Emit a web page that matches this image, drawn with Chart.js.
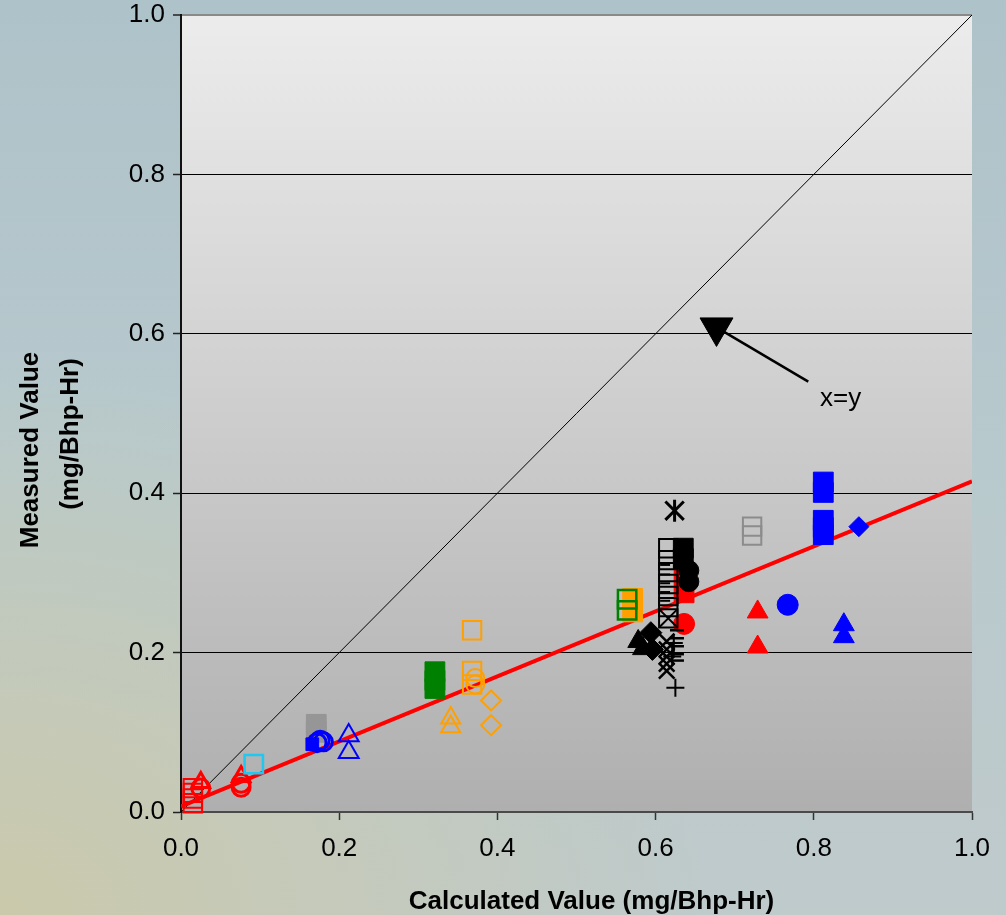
<!DOCTYPE html>
<html><head><meta charset="utf-8">
<script src="https://cdn.jsdelivr.net/npm/chart.js@4"></script>
<style>
html,body{margin:0;padding:0;}
body{width:1006px;height:915px;overflow:hidden;
background:
 radial-gradient(ellipse 70% 60% at 0% 100%, rgba(203,201,170,0.95) 0%, rgba(203,201,170,0) 100%),
 linear-gradient(180deg,#aec2c9 0%,#b8c9cd 50%,#bfcacb 100%);}
#wrap{position:relative;width:1006px;height:915px;}
</style></head><body><div id="wrap"><canvas id="c" width="1006" height="915"></canvas></div>
<script>
// ---- axis labels ----
const xTickValues = [0, 0.2, 0.4, 0.6, 0.8, 1.0];
const xTickLabels = ['0.0', '0.2', '0.4', '0.6', '0.8', '1.0'];
const yTickValues = [0, 0.2, 0.4, 0.6, 0.8, 1.0];
const yTickLabels = ['0.0', '0.2', '0.4', '0.6', '0.8', '1.0'];
const xTitle = 'Calculated Value (mg/Bhp-Hr)';
const yTitle = ['Measured Value', '(mg/Bhp-Hr)'];

// ---- reference lines ----
const identityX = [0, 1];
const identityY = [0, 1];
const fitX = [0, 1];
const fitY = [0.007, 0.415];
const arrowX = [0.677, 0.793];
const arrowY = [0.608, 0.540];
const arrowLabel = 'x=y';
const arrowLabelX = 0.834;
const arrowLabelY = 0.509;

// ---- measured vs calculated points ----
const redSqOpenX = [0.015, 0.015, 0.015, 0.015];
const redSqOpenY = [0.030, 0.024, 0.017, 0.011];
const redCircOpenX = [0.025, 0.076, 0.076];
const redCircOpenY = [0.030, 0.031, 0.036];
const redTriOpenX = [0.025, 0.076];
const redTriOpenY = [0.037, 0.0445];
const cyanSqOpenX = [0.092];
const cyanSqOpenY = [0.060];
const graySqX = [0.171, 0.171];
const graySqY = [0.110, 0.100];
const blueSqSmallX = [0.166];
const blueSqSmallY = [0.085];
const blueCircOpenX = [0.172, 0.176, 0.180];
const blueCircOpenY = [0.087, 0.090, 0.088];
const blueTriOpenX = [0.212, 0.212];
const blueTriOpenY = [0.096, 0.075];
const greenSqX = [0.321, 0.321, 0.321];
const greenSqY = [0.176, 0.165, 0.155];
const orangeSqOpenX = [0.368, 0.368, 0.368];
const orangeSqOpenY = [0.228, 0.177, 0.160];
const orangeCircOpenX = [0.372, 0.372];
const orangeCircOpenY = [0.168, 0.160];
const orangeTriOpenX = [0.341, 0.341];
const orangeTriOpenY = [0.118, 0.107];
const orangeDiaOpenX = [0.392, 0.392];
const orangeDiaOpenY = [0.140, 0.109];
const greenSqOpenX = [0.564, 0.564];
const greenSqOpenY = [0.267, 0.253];
const orangeSqX = [0.571, 0.571];
const orangeSqY = [0.268, 0.251];
const blackSqOpenX = [0.616, 0.616, 0.616, 0.616, 0.616, 0.616, 0.616];
const blackSqOpenY = [0.331, 0.316, 0.301, 0.286, 0.271, 0.257, 0.243];
const blackBoxXX = [0.616];
const blackBoxXY = [0.243];
const blackBoxDashX = [0.612, 0.612, 0.612, 0.612, 0.612];
const blackBoxDashY = [0.310, 0.298, 0.287, 0.276, 0.265];
const blackSqX = [0.635, 0.635];
const blackSqY = [0.331, 0.318];
const redSqX = [0.636, 0.636];
const redSqY = [0.300, 0.275];
const blackCircX = [0.642, 0.642];
const blackCircY = [0.303, 0.289];
const redCircX = [0.636];
const redCircY = [0.236];
const blackStarX = [0.624];
const blackStarY = [0.378];
const blackTriX = [0.578, 0.584];
const blackTriY = [0.214, 0.205];
const blackDiaX = [0.594, 0.596];
const blackDiaY = [0.225, 0.204];
const blackCrossX = [0.614, 0.614, 0.614, 0.614, 0.614];
const blackCrossY = [0.214, 0.204, 0.195, 0.186, 0.177];
const blackPlusX = [0.625, 0.621, 0.623];
const blackPlusY = [0.156, 0.195, 0.212];
const blackDashX = [0.627, 0.627, 0.627, 0.627, 0.627];
const blackDashY = [0.228, 0.218, 0.208, 0.198, 0.190];
const graySqOpenX = [0.722, 0.722];
const graySqOpenY = [0.358, 0.347];
const blueSqX = [0.812, 0.812, 0.812, 0.812, 0.812];
const blueSqY = [0.414, 0.401, 0.366, 0.357, 0.348];
const blueDiaX = [0.857];
const blueDiaY = [0.358];
const blueCircX = [0.767];
const blueCircY = [0.260];
const redTriX = [0.729, 0.729];
const redTriY = [0.251, 0.207];
const blueTriX = [0.838, 0.838];
const blueTriY = [0.235, 0.220];

const pts = (xs, ys) => xs.map((x, i) => ({x, y: ys[i]}));
const FONT = '"Liberation Sans", Arial, sans-serif';

function marker(xs, ys, style, color, radius, filled, extra) {
  return Object.assign({
    type: 'scatter',
    data: pts(xs, ys),
    pointStyle: style,
    pointRadius: radius,
    pointBorderColor: color,
    pointBackgroundColor: filled ? color : 'rgba(0,0,0,0)',
    pointBorderWidth: filled ? 1 : 2,
    clip: false
  }, extra || {});
}

// back-to-front drawing sequence
const layers = [
  {type: 'line', data: pts(identityX, identityY), borderColor: '#000', borderWidth: 1, pointRadius: 0, fill: false},
  {type: 'line', data: pts(fitX, fitY), borderColor: '#ff0000', borderWidth: 4, pointRadius: 0, fill: false},
  {type: 'line', data: pts(arrowX, arrowY), borderColor: '#000', borderWidth: 2.5, fill: false,
   pointStyle: 'triangle', pointRotation: 180, pointRadius: [19, 0], pointBackgroundColor: '#000', pointBorderColor: '#000', pointBorderWidth: 1, clip: false},
  marker(redSqOpenX, redSqOpenY, 'rect', '#ff0000', 13, false),
  marker(redCircOpenX, redCircOpenY, 'circle', '#ff0000', 9, false, {pointBorderWidth: 3}),
  marker(redTriOpenX, redTriOpenY, 'triangle', '#ff0000', 10, false, {pointBorderWidth: 3}),
  marker(cyanSqOpenX, cyanSqOpenY, 'rect', '#1ec8f0', 13, false, {pointBorderWidth: 2.5}),
  marker(graySqX, graySqY, 'rect', '#969696', 14, true),
  marker(blueSqSmallX, blueSqSmallY, 'rect', '#0000ff', 9, true),
  marker(blueCircOpenX, blueCircOpenY, 'circle', '#0000ff', 9, false, {pointBorderWidth: 3}),
  marker(blueTriOpenX, blueTriOpenY, 'triangle', '#0000ff', 11.5, false),
  marker(greenSqX, greenSqY, 'rect', '#008000', 14, true),
  marker(orangeSqOpenX, orangeSqOpenY, 'rect', '#ffa000', 13, false),
  marker(orangeCircOpenX, orangeCircOpenY, 'circle', '#ffa000', 9, false),
  marker(orangeTriOpenX, orangeTriOpenY, 'triangle', '#ffa000', 11, false),
  marker(orangeDiaOpenX, orangeDiaOpenY, 'rectRot', '#ffa000', 10, false),
  marker(orangeSqX, orangeSqY, 'rect', '#ffa000', 14, true),
  marker(greenSqOpenX, greenSqOpenY, 'rect', '#008000', 13, false, {pointBorderWidth: 2.5}),
  marker(redCircX, redCircY, 'circle', '#ff0000', 10.5, true),
  marker(redSqX, redSqY, 'rect', '#ff0000', 14, true),
  marker(blackCircX, blackCircY, 'circle', '#000000', 10, true),
  marker(blackSqX, blackSqY, 'rect', '#000000', 14, true),
  marker(blackSqOpenX, blackSqOpenY, 'rect', '#000000', 13, false),
  marker(blackBoxXX, blackBoxXY, 'crossRot', '#000000', 12, false),
  marker(blackBoxDashX, blackBoxDashY, 'line', '#000000', 5, false),
  marker(blackStarX, blackStarY, 'crossRot', '#000000', 13, false, {pointBorderWidth: 3}),
  marker(blackStarX, blackStarY, 'line', '#000000', 11, false, {pointBorderWidth: 3, pointRotation: 90}),
  marker(blackTriX, blackTriY, 'triangle', '#000000', 12, true),
  marker(blackDiaX, blackDiaY, 'rectRot', '#000000', 11, true),
  marker(blackCrossX, blackCrossY, 'crossRot', '#000000', 11, false, {pointBorderWidth: 2.5}),
  marker(blackPlusX, blackPlusY, 'cross', '#000000', 9, false),
  marker(blackDashX, blackDashY, 'line', '#000000', 7, false, {pointBorderWidth: 2.5}),
  marker(graySqOpenX, graySqOpenY, 'rect', '#8c8c8c', 13, false),
  marker(blueSqX, blueSqY, 'rect', '#0000ff', 14, true),
  marker(blueDiaX, blueDiaY, 'rectRot', '#0000ff', 10, true),
  marker(blueCircX, blueCircY, 'circle', '#0000ff', 10.5, true),
  marker(redTriX, redTriY, 'triangle', '#ff0000', 12, true),
  marker(blueTriX, blueTriY, 'triangle', '#0000ff', 12, true)
];
layers.forEach((d, i) => { d.order = layers.length - i; });

const bgPlugin = {
  id: 'plotBg',
  beforeDraw(chart) {
    const {ctx, chartArea: a} = chart;
    const g = ctx.createLinearGradient(0, a.top, 0, a.bottom);
    g.addColorStop(0, '#ececec');
    g.addColorStop(1, '#afafaf');
    ctx.save();
    ctx.fillStyle = g;
    ctx.fillRect(a.left, a.top, a.right - a.left, a.bottom - a.top);
    ctx.restore();
  }
};

const textPlugin = {
  id: 'texts',
  afterDraw(chart) {
    const {ctx, chartArea: a, scales} = chart;
    ctx.save();
    ctx.fillStyle = '#000';
    ctx.textAlign = 'center';
    ctx.textBaseline = 'alphabetic';
    ctx.font = 'bold 26px ' + FONT;
    const cx = (a.left + a.right) / 2;
    ctx.fillText(xTitle, cx + 15, a.bottom + 97);
    ctx.save(); ctx.translate(38, 450); ctx.rotate(-Math.PI / 2); ctx.fillText(yTitle[0], 0, 0); ctx.restore();
    ctx.save(); ctx.translate(78, 434); ctx.rotate(-Math.PI / 2); ctx.fillText(yTitle[1], 0, 0); ctx.restore();
    ctx.font = '26px ' + FONT;
    ctx.fillText(arrowLabel, scales.x.getPixelForValue(arrowLabelX), scales.y.getPixelForValue(arrowLabelY));
    ctx.restore();
  }
};

function zeroPad(s) { s.paddingTop = 0; s.paddingBottom = 0; s.paddingLeft = 0; s.paddingRight = 0; }

new Chart(document.getElementById('c'), {
  type: 'scatter',
  data: {datasets: layers},
  plugins: [bgPlugin, textPlugin],
  options: {
    responsive: false,
    animation: false,
    events: [],
    layout: {autoPadding: false, padding: {left: 0, top: 15, right: 34, bottom: 0}},
    plugins: {legend: {display: false}, tooltip: {enabled: false}},
    scales: {
      x: {
        type: 'linear', min: 0, max: 1,
        afterBuildTicks: s => { s.ticks = xTickValues.map(v => ({value: v})); },
        afterFit: s => { s.height = 103; zeroPad(s); },
        ticks: {
          callback: (v, i) => xTickLabels[i],
          font: {family: FONT, size: 26}, color: '#000', padding: 13, maxRotation: 0, autoSkip: false
        },
        grid: {drawOnChartArea: false, drawTicks: true, tickLength: 8, tickColor: '#333', tickWidth: 1.5},
        border: {color: '#4a4a4a', width: 2}
      },
      y: {
        type: 'linear', min: 0, max: 1,
        afterBuildTicks: s => { s.ticks = yTickValues.map(v => ({value: v})); },
        afterFit: s => { s.width = 181; zeroPad(s); },
        ticks: {
          callback: (v, i) => yTickLabels[i],
          font: {family: FONT, size: 26}, color: '#000', padding: 8
        },
        grid: {
          color: c => c.tick && c.tick.value === 1 ? '#8a8a8a' : (c.tick && c.tick.value === 0 ? 'rgba(0,0,0,0)' : '#000'),
          lineWidth: c => c.tick && c.tick.value === 1 ? 2 : 1,
          drawTicks: true, tickLength: 8, tickColor: '#222', tickWidth: 1.5
        },
        border: {color: '#111', width: 2}
      }
    }
  }
});
</script></body></html>
